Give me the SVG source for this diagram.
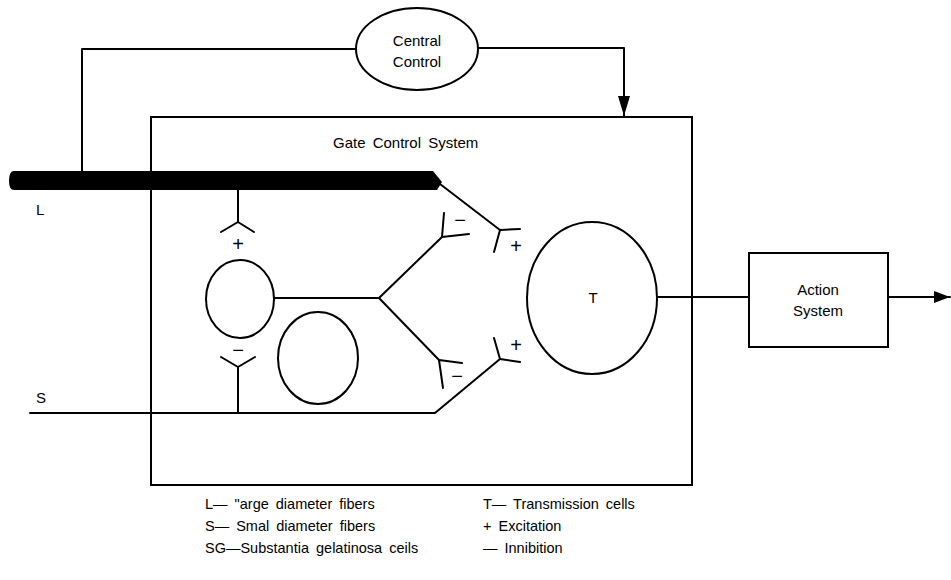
<svg xmlns="http://www.w3.org/2000/svg" width="951" height="580" viewBox="0 0 951 580">
<style>
.ln{fill:none;stroke:#000;stroke-width:2;stroke-linecap:round;stroke-linejoin:round}
.shape{fill:none;stroke:#000;stroke-width:2}
.lbl{font-family:"Liberation Sans",Arial,sans-serif;font-size:15px;fill:#000}
.lg{font-family:"Liberation Sans",Arial,sans-serif;font-size:14.5px;fill:#000;word-spacing:3px}
.sign{font-family:"Liberation Sans",Arial,sans-serif;font-size:20px;fill:#000;text-anchor:middle}
</style>
<defs>
<marker id="ah" viewBox="0 0 16 12" refX="16" refY="6" markerWidth="16" markerHeight="12" markerUnits="userSpaceOnUse" orient="auto">
<path d="M0,0 L16,6 L0,12 Z" fill="#000"/>
</marker>
<marker id="ahd" viewBox="0 0 20 12" refX="20" refY="6" markerWidth="20" markerHeight="12" markerUnits="userSpaceOnUse" orient="auto">
<path d="M0,0 L20,6 L0,12 Z" fill="#000"/>
</marker>
</defs>
<rect width="951" height="580" fill="#fff"/>

<g id="gate-control-system">
<rect class="shape" x="151" y="117" width="541" height="368"/>
<text class="lbl" x="333" y="148" style="word-spacing:3px">Gate Control System</text>
</g>

<g id="central-control">
<ellipse class="shape" cx="417" cy="49" rx="61" ry="41"/>
<text class="lbl" x="417" y="46" text-anchor="middle">Central</text>
<text class="lbl" x="417" y="67" text-anchor="middle">Control</text>
</g>

<g id="action-system">
<rect class="shape" x="749" y="253" width="139" height="94"/>
<text class="lbl" x="818" y="295" text-anchor="middle">Action</text>
<text class="lbl" x="818" y="316" text-anchor="middle">System</text>
</g>

<g id="t-cells">
<ellipse class="shape" cx="592" cy="298" rx="65" ry="76"/>
<text class="lbl" x="593" y="303" text-anchor="middle">T</text>
</g>

<g id="sg-cell-1">
<ellipse class="shape" cx="240" cy="299" rx="34" ry="39"/>
</g>
<g id="sg-cell-2">
<ellipse class="shape" cx="318" cy="358" rx="40" ry="46"/>
</g>

<g id="fiber-L">
<path d="M14 171 H433 L442 182 L437 190 H14 Q9 190 9 180.5 Q9 171 14 171 Z" fill="#000"/>
<text class="lbl" x="36" y="215">L</text>
</g>
<g id="fiber-S">
<text class="lbl" x="36" y="403">S</text>
</g>

<g id="connectors">
<path class="ln" d="M82 171 V49 H356"/>
<path class="ln" d="M478 48 H624 V116" marker-end="url(#ahd)"/>
<path class="ln" d="M440 184 L500 230"/>
<path class="ln" d="M238 190 V222"/>
<path class="ln" d="M30 413 H435 L500 359"/>
<path class="ln" d="M238 367 V413"/>
<path class="ln" d="M274 298 H379 L442 237"/>
<path class="ln" d="M379 298 L439 360"/>
<path class="ln" d="M657 297 H749"/>
<path class="ln" d="M888 297 H950" marker-end="url(#ah)"/>
</g>

<g id="synapses">
<path class="ln" d="M221 232 L238 222 L254 232"/>
<text class="sign" x="238" y="251">+</text>
<path class="ln" d="M221 357 L238 367 L255 357"/>
<text class="sign" x="238" y="357">−</text>
<path class="ln" d="M444 213 L442 237 L469 234"/>
<text class="sign" x="460" y="227">−</text>
<path class="ln" d="M443 388 L439 360 L462 363"/>
<text class="sign" x="457" y="383">−</text>
<path class="ln" d="M494 252 L500 230 L520 229"/>
<text class="sign" x="516" y="253">+</text>
<path class="ln" d="M494 338 L500 359 L520 362"/>
<text class="sign" x="516" y="352">+</text>
</g>

<g id="legend">
<text class="lg" x="205" y="509">L— "arge diameter fibers</text>
<text class="lg" x="205" y="531">S— Smal diameter fibers</text>
<text class="lg" x="205" y="553">SG—Substantia gelatinosa ceils</text>
<text class="lg" x="483" y="509">T— Transmission cells</text>
<text class="lg" x="483" y="531">+ Excitation</text>
<text class="lg" x="483" y="553">— Innibition</text>
</g>
</svg>
